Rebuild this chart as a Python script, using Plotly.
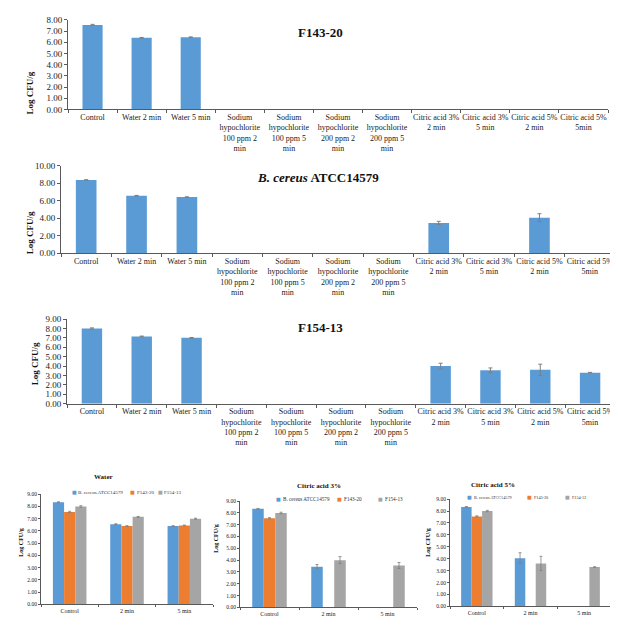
import plotly.graph_objects as go

W, H = 618, 628

# ---------------- data ----------------
treatments = [
    "Control", "Water 2 min", "Water 5 min",
    "Sodium<br>hypochlorite<br>100 ppm 2<br>min",
    "Sodium<br>hypochlorite<br>100 ppm 5<br>min",
    "Sodium<br>hypochlorite<br>200 ppm 2<br>min",
    "Sodium<br>hypochlorite<br>200 ppm 5<br>min",
    "Citric acid 3%<br>2 min", "Citric acid 3%<br>5 min",
    "Citric acid 5%<br>2 min", "Citric acid 5%<br>5min",
]
f143_mean = [7.55, 6.40, 6.45, 0, 0, 0, 0, 0, 0, 0, 0]
f143_err = [0.05, 0.03, 0.03, 0, 0, 0, 0, 0, 0, 0, 0]
bc_mean = [8.35, 6.55, 6.40, 0, 0, 0, 0, 3.45, 0, 4.05, 0]
bc_err = [0.03, 0.04, 0.03, 0, 0, 0, 0, 0.18, 0, 0.45, 0]
f154_mean = [8.00, 7.15, 7.00, 0, 0, 0, 0, 4.00, 3.55, 3.60, 3.30]
f154_err = [0.06, 0.04, 0.04, 0, 0, 0, 0, 0.30, 0.25, 0.60, 0.03]

strains = ["B. cereus ATCC14579", "F143-20", "F154-13"]
group_cats = ["Control", "2 min", "5 min"]
water_idx = [0, 1, 2]
ca3_idx = [0, 7, 8]
ca5_idx = [0, 9, 10]

top_titles = ["<b>F143-20</b>", "<b><i>B. cereus</i> ATCC14579</b>", "<b>F154-13</b>"]
bottom_titles = ["<b>Water</b>", "<b>Citric acid 3%</b>", "<b>Citric acid 5%</b>"]

# ---------------- style ----------------
BLUE, ORANGE, GRAY = "#5B9BD5", "#ED7D31", "#A5A5A5"
strain_colors = [BLUE, ORANGE, GRAY]
FONT = "Liberation Serif"
AXC = "#595959"
ERRC = "#7F7F7F"


def dx(a, b):
    return [a / W, b / W]


def dy(top, bottom):
    return [1 - bottom / H, 1 - top / H]


def shown(means_):
    # nothing drawn where nothing was detected
    return [m if m > 0 else None for m in means_]


def shown_err(means_, errs_):
    return [e if m > 0 else None for m, e in zip(means_, errs_)]


fig = go.Figure()
annotations = []

# top charts: (mean, err, ymax, dtick, xdom, ydom, title pos, ytitle pos)
top_specs = [
    (f143_mean, f143_err, 8, 1, (60, 600), (7, 98), (312, 10), (15, 58)),
    (bc_mean, bc_err, 10, 2, (53, 607), (155, 244), (310, 157), (15, 200)),
    (f154_mean, f154_err, 9, 1, (59, 607), (311, 397), (312, 320), (20, 357)),
]

for i, (m, e, ymax, dt, xd, yd, tpos, ypos) in enumerate(top_specs):
    n = i + 1
    xa = "x" if n == 1 else f"x{n}"
    ya = "y" if n == 1 else f"y{n}"
    fig.add_trace(go.Bar(
        x=treatments, y=shown(m), xaxis=xa, yaxis=ya, width=0.41,
        marker=dict(color=BLUE, line=dict(width=0)),
        error_y=dict(type="data", array=shown_err(m, e), color=ERRC, thickness=1, width=2),
        showlegend=False, hoverinfo="skip"))
    xkey = "xaxis" if n == 1 else f"xaxis{n}"
    ykey = "yaxis" if n == 1 else f"yaxis{n}"
    fig.layout[xkey] = dict(
        domain=dx(*xd), anchor=ya, type="category", tickangle=0,
        categoryorder="array", categoryarray=treatments,
        showline=True, linecolor=AXC, linewidth=1, ticks="outside",
        tickson="boundaries", ticklen=3, tickcolor=AXC, showgrid=False,
        tickfont=dict(family=FONT, size=8, color="#222"), fixedrange=True)
    fig.layout[ykey] = dict(
        domain=dy(*yd), anchor=xa, range=[0, ymax], dtick=dt, tickformat=".2f",
        showline=True, linecolor=AXC, linewidth=1, ticks="outside", ticklen=3,
        tickcolor=AXC, showgrid=False, zeroline=False,
        tickfont=dict(family=FONT, size=9, color="#222"))
    annotations.append(dict(x=tpos[0] / W, y=1 - tpos[1] / H, xref="paper", yref="paper",
                            text=top_titles[i], showarrow=False,
                            font=dict(family=FONT, size=13, color="#111")))
    annotations.append(dict(x=ypos[0] / W, y=1 - ypos[1] / H, xref="paper", yref="paper",
                            text="<b>Log CFU/g</b>", textangle=-90, showarrow=False,
                            font=dict(family=FONT, size=9, color="#111")))

# bottom grouped charts
means = [bc_mean, f143_mean, f154_mean]
errs = [bc_err, f143_err, f154_err]
bottom_specs = [
    (water_idx, (33, 205), (489, 601), (84, 478), (8, 555), 5.0, 492,
     [(66, 68), (124, 127), (152, 154)]),
    (ca3_idx, (232, 409), (496, 604), (311, 487), (208, 551), 5.2, 499,
     [(270, 273), (331, 334), (372, 375)]),
    (ca5_idx, (442, 603), (494, 603), (509, 486), (425, 555), 4.2, 497,
     [(461, 464), (521, 524), (559, 562)]),
]
bw = 0.195
for j, (idx, xd, yd, tpos, ypos, lfs, ly, lpos) in enumerate(bottom_specs):
    n = j + 4
    xa, ya = f"x{n}", f"y{n}"
    for k in range(3):
        mv = [means[k][t] for t in idx]
        ev = [errs[k][t] for t in idx]
        fig.add_trace(go.Bar(
            x=group_cats, y=shown(mv), xaxis=xa, yaxis=ya,
            width=bw, offset=-1.5 * bw + k * bw, name=strains[k],
            marker=dict(color=strain_colors[k], line=dict(width=0)),
            error_y=dict(type="data", array=shown_err(mv, ev),
                         color=ERRC, thickness=0.8, width=1.5),
            showlegend=False, hoverinfo="skip"))
        # legend entry drawn as text
        annotations.append(dict(x=lpos[k][0] / W, y=1 - ly / H, xref="paper", yref="paper",
                                text="■", showarrow=False, xanchor="center",
                                font=dict(family="DejaVu Sans", size=5, color=strain_colors[k])))
        annotations.append(dict(x=lpos[k][1] / W, y=1 - ly / H, xref="paper", yref="paper",
                                text=strains[k], showarrow=False, xanchor="left",
                                font=dict(family=FONT, size=lfs, color="#333")))
    fig.layout[f"xaxis{n}"] = dict(
        domain=dx(*xd), anchor=ya, type="category", tickangle=0,
        categoryorder="array", categoryarray=group_cats,
        showline=True, linecolor=AXC, linewidth=1, ticks="outside",
        tickson="boundaries", ticklen=2, tickcolor=AXC, showgrid=False,
        tickfont=dict(family=FONT, size=6, color="#222"))
    fig.layout[f"yaxis{n}"] = dict(
        domain=dy(*yd), anchor=xa, range=[0, 9], dtick=1, tickformat=".2f",
        showline=True, linecolor=AXC, linewidth=1, ticks="outside", ticklen=2,
        tickcolor=AXC, showgrid=False, zeroline=False,
        tickfont=dict(family=FONT, size=5.5, color="#222"))
    annotations.append(dict(x=tpos[0] / W, y=1 - tpos[1] / H, xref="paper", yref="paper",
                            text=bottom_titles[j], showarrow=False,
                            font=dict(family=FONT, size=7, color="#111")))
    annotations.append(dict(x=ypos[0] / W, y=1 - ypos[1] / H, xref="paper", yref="paper",
                            text="<b>Log CFU/g</b>", textangle=-90, showarrow=False,
                            font=dict(family=FONT, size=6, color="#111")))

fig.update_layout(
    width=W, height=H, margin=dict(l=0, r=0, t=0, b=0),
    paper_bgcolor="white", plot_bgcolor="white",
    barmode="overlay", showlegend=False, annotations=annotations,
    font=dict(family=FONT),
)

fig.write_html("out.html")
